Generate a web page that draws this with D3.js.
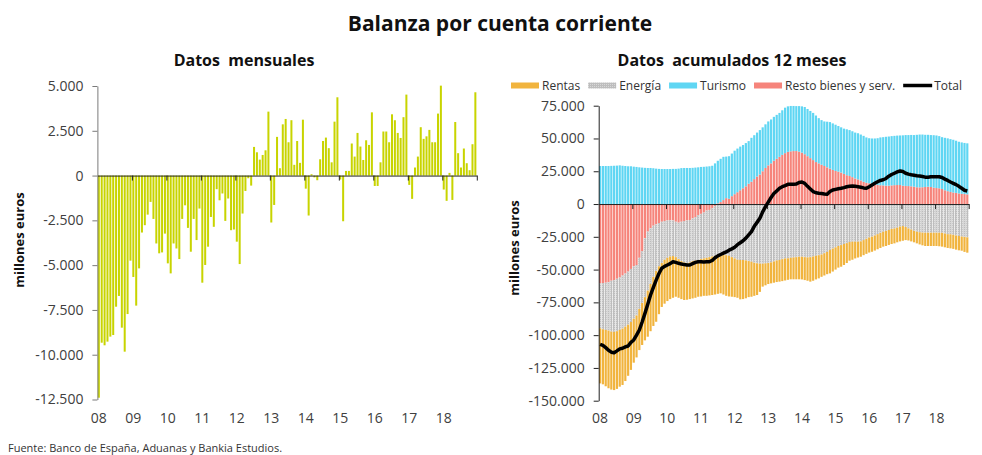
<!DOCTYPE html>
<html>
<head>
<meta charset="utf-8">
<script src="https://cdn.jsdelivr.net/npm/d3@7"></script>
<style>
  body { margin: 0; background: #fff; }
  svg { font-family: "Open Sans", sans-serif; }
</style>
</head>
<body>
<svg id="chart" width="982" height="455"></svg>
<script>
// años del eje (etiquetas) - 12 meses por año, ene-2008 a dic-2018
const years = ['08', '09', '10', '11', '12', '13', '14', '15', '16', '17', '18'];

// saldo mensual, millones de euros
const mensual = [
  -12400, -9330, -9475, -9270, -8990, -8900, -7320, -6720, -8490, -9830, -7730, -4750,
  -5660, -7260, -5180, -3180, -2770, -2180, -1470, -2420, -3790, -4340, -4290, -3240,
  -4900, -5460, -3790, -4070, -4660, -2420, -1660, -2920, -4250, -2420, -3600, -1840,
  -5980, -4990, -3970, -2310, -2860, -760, -1380, -1000, -2530, -1280, -3050, -3010,
  -3690, -4940, -2120, -860, -150, -560, 1600, 1300, 890, 1150, 1410, 3570,
  -2620, -1640, 2160, 410, 2860, 3160, 1860, 3090, 600, 1930, 710, 3120,
  -730, -2230, 75, -100, -260, 910, 1930, 2120, 1530, 740, 3010, 4370,
  -220, -2550, 260, 260, 1790, 1060, 2380, 1620, 870, 1970, 1710, 3530,
  -580, -580, 740, 2460, 2460, 1860, 3420, 3090, 2380, 2100, 3260, 4520,
  -520, -1300, 450, 1060, 2700, 2050, 2190, 2550, 1860, 1860, 3460, 5020,
  -780, -1410, 150, -1360, 2990, 1250, 450, 1510, 690, 300, 1750, 4650
];

// acumulado 12 meses, millones de euros
const rentas = [
  -42000, -42000, -43000, -44000, -44200, -44400, -44000, -43300, -43000, -41500, -39000, -36500,
  -33500, -32000, -31400, -32000, -33000, -35200, -36000, -37500, -38800, -36500, -33500, -33500,
  -33000, -32500, -31800, -30200, -29500, -29000, -28700, -28000, -28000, -28500, -28500, -28000,
  -28500, -28500, -29000, -29200, -29400, -29500, -29500, -29200, -30100, -31000, -31000, -30200,
  -29500, -29000, -30000, -29800, -28900, -27500, -26700, -25200, -24200, -21500, -17500, -16800,
  -16000, -16000, -16200, -16500, -16500, -16800, -16800, -16400, -16400, -16700, -16900, -17200,
  -17300, -17500, -17800, -18700, -18500, -18000, -17700, -17000, -17000, -17000, -17800, -17500,
  -17000, -16500, -16500, -16000, -15200, -14200, -13800, -12800, -12100, -11700, -11500, -11500,
  -11500, -11500, -11500, -11500, -11500, -11400, -11500, -11400, -11500, -11400, -11200, -11300,
  -11200, -10000, -9200, -9000, -8700, -8900, -9300, -9700, -10100, -10100, -10100, -10100,
  -10100, -10300, -10500, -10500, -10500, -10700, -10700, -10800, -10900, -10800, -11400, -11700
];
const energia = [
  -34300, -35200, -36000, -37000, -38800, -39500, -40000, -40000, -40500, -40500, -40500, -40500,
  -40000, -38500, -39000, -39500, -45000, -45000, -42500, -39000, -35500, -33000, -31500, -29500,
  -28500, -27800, -27200, -27000, -27800, -30000, -31500, -32500, -32300, -32500, -33000, -34200,
  -34500, -35000, -36000, -36000, -37000, -38000, -39000, -38900, -38900, -39000, -39500, -40500,
  -41500, -42500, -42700, -42700, -43000, -43500, -44000, -44800, -45200, -45500, -45500, -45200,
  -45000, -44500, -43800, -43000, -42700, -42000, -41500, -41400, -41000, -40700, -40500, -40200,
  -40200, -40500, -40700, -40500, -40000, -39500, -39000, -38500, -37500, -36500, -35100, -34000,
  -33000, -32000, -31300, -30500, -29800, -29000, -28700, -28700, -28700, -28500, -27500, -26500,
  -25500, -24900, -24000, -23000, -22000, -21100, -20500, -19800, -19000, -18600, -18000, -17200,
  -16800, -17500, -18600, -19500, -20500, -21100, -21500, -21800, -21900, -21900, -21900, -21900,
  -21900, -21900, -22000, -22500, -23000, -23100, -23500, -24000, -24400, -24800, -25100, -25400
];
const turismo = [
  29000, 29000, 29000, 29000, 29100, 29200, 29300, 29500, 29200, 29000, 28800, 28800,
  28500, 28300, 28000, 27800, 27600, 27500, 27500, 27300, 27000, 26800, 26700, 26700,
  26700, 26700, 26800, 26800, 27000, 27400, 27500, 27500, 27500, 27600, 27800, 28000,
  28300, 28400, 28600, 28800, 29200, 31000, 32500, 33000, 33000, 31700, 32500, 32500,
  33200, 33300, 33300, 33000, 33000, 32500, 33500, 33500, 33500, 33900, 33500, 33300,
  33500, 33500, 33500, 33500, 33500, 34000, 34700, 34700, 34600, 34400, 34300, 34700,
  35300, 36000, 36000, 36000, 36000, 35500, 34500, 34000, 34000, 34800, 35500, 35500,
  35300, 34800, 34500, 34500, 35000, 35000, 35000, 35000, 35200, 35000, 35000, 34600,
  34400, 34800, 35200, 35700, 36500, 36800, 37300, 37500, 37600, 37600, 37700, 37800,
  38400, 38800, 38900, 39200, 39400, 40000, 40300, 40200, 39800, 39600, 39600, 40000,
  40100, 39800, 39500, 40000, 40300, 40300, 40200, 39800, 39400, 39200, 39000, 38900
];
const resto = [
  -60500, -60300, -60000, -59500, -58500, -58000, -57000, -56000, -54500, -53000, -51500, -49500,
  -47500, -46500, -41000, -36000, -26000, -21000, -18500, -16500, -15500, -14500, -13500, -13000,
  -12500, -12200, -12500, -13500, -14200, -13500, -13000, -12500, -12200, -11000, -10000, -8500,
  -7500, -6500, -5000, -4500, -3000, -1500, 500, 1500, 3000, 4500, 4000, 6000,
  7500, 9000, 10500, 12000, 13500, 15500, 17000, 19000, 21000, 22500, 25000, 27500,
  29500, 31000, 33000, 34500, 36000, 37500, 38800, 39800, 40200, 40400, 40400, 40000,
  39200, 38000, 36500, 35000, 33500, 32000, 31000, 30000, 29000, 28000, 27000, 26000,
  25200, 24700, 24000, 23000, 22000, 21400, 20500, 19500, 18800, 18000, 17000, 16200,
  15800, 15200, 14800, 14500, 14300, 14200, 14000, 14000, 14200, 14400, 14500, 14500,
  14000, 13800, 13700, 13500, 13200, 12800, 12700, 12800, 13000, 13200, 13000, 12500,
  12200, 12000, 11500, 10500, 9800, 9200, 8800, 8500, 8100, 7800, 7600, 7400
];
const total = [
  -107000, -107800, -109500, -111500, -113000, -113400, -112000, -110500, -110000, -109000, -108300, -105500,
  -103700, -100000, -96100, -90000, -83400, -76500, -69400, -63500, -58000, -53000, -49000, -47500,
  -46500, -45500, -44000, -44500, -45200, -45800, -46200, -46500, -46500, -45500, -44500, -44000,
  -44000, -44200, -44000, -44000, -43000, -41000, -39500, -38500, -37500, -36500, -35200, -34200,
  -33000, -31000, -29500, -28000, -26000, -23500, -21000, -17000, -14000, -10900, -6000, -2000,
  1500, 5000, 8000, 10000, 12000, 13200, 14000, 15000, 15000, 15000, 15200, 16500,
  16800, 15800, 13500, 11500, 9500, 8600, 8200, 8000, 7600, 7400, 9500, 10700,
  11200, 11700, 12000, 12500, 13200, 13500, 13700, 13500, 13200, 12800, 12300, 12000,
  13200, 14500, 15800, 17000, 18000, 18500, 19500, 21200, 22500, 23500, 24500, 25200,
  24800, 23500, 22800, 22300, 22000, 21600, 21400, 21000, 20500, 20500, 20800, 20900,
  20900, 20800, 20200, 19000, 18000, 16800, 15800, 14800, 13500, 12000, 10500, 9900
];

const ticksMensual = [5000, 2500, 0, -2500, -5000, -7500, -10000, -12500];
const ticksAcum = [75000, 50000, 25000, 0, -25000, -50000, -75000, -100000, -125000, -150000];

const series = ['Rentas', 'Energía', 'Turismo', 'Resto bienes y serv.'];
const colores = {
  'Rentas': '#f1b43e',
  'Energía': 'url(#puntos)',
  'Turismo': '#5fd6f3',
  'Resto bienes y serv.': '#f6847b'
};

const svg = d3.select('#chart');
const fmt = d3.formatLocale({ decimal: ',', thousands: '.', grouping: [3], currency: ['', ''], minus: '-' }).format(',.0f');
const months = years.flatMap(yy => d3.range(1, 13).map(m => yy + '-' + m));

// trama punteada de la energía
const pat = svg.append('defs').append('pattern')
  .attr('id', 'puntos').attr('width', 2).attr('height', 2)
  .attr('patternUnits', 'userSpaceOnUse');
pat.append('rect').attr('width', 2).attr('height', 2).attr('fill', '#bdbdbd');
pat.append('rect').attr('width', 1).attr('height', 1).attr('fill', '#d8d8d8');

// titulos
svg.append('text')
  .attr('x', 500).attr('y', 31)
  .attr('text-anchor', 'middle')
  .attr('font-size', 21).attr('font-weight', 'bold').attr('fill', '#111')
  .text('Balanza por cuenta corriente');

svg.append('text')
  .attr('x', 244).attr('y', 66)
  .attr('text-anchor', 'middle').style('white-space', 'pre')
  .attr('font-size', 16).attr('font-weight', 'bold').attr('fill', '#111')
  .text('Datos  mensuales');

svg.append('text')
  .attr('x', 732).attr('y', 66)
  .attr('text-anchor', 'middle').style('white-space', 'pre')
  .attr('font-size', 16).attr('font-weight', 'bold').attr('fill', '#111')
  .text('Datos  acumulados 12 meses');

const styleAxis = (g, domainColor) => {
  g.select('.domain').attr('stroke', domainColor);
  g.selectAll('.tick line').attr('stroke', domainColor);
  g.selectAll('.tick text').attr('fill', '#404040').attr('font-size', 14)
    .attr('font-family', '"Open Sans", sans-serif');
};

// ---- panel izquierdo: datos mensuales ----
const xL = d3.scaleBand().domain(months).range([97.4, 476.8]).paddingInner(0.3).paddingOuter(0.15);
const yL = d3.scaleLinear().domain([-12500, 5000]).range([399.5, 86]);

svg.append('g')
  .attr('fill', '#c8d400')
  .selectAll('rect')
  .data(mensual)
  .join('rect')
  .attr('x', (d, i) => xL(months[i]))
  .attr('width', xL.bandwidth())
  .attr('y', d => yL(Math.max(0, d)))
  .attr('height', d => Math.abs(yL(d) - yL(0)));

svg.append('g')
  .attr('transform', 'translate(97.4,0)')
  .call(d3.axisLeft(yL).tickValues(ticksMensual).tickFormat(fmt).tickSize(5).tickPadding(9).tickSizeOuter(0))
  .call(g => styleAxis(g, '#7a7a7a'));

const yearL = d3.scaleLinear().domain([0, years.length]).range(xL.range());
svg.append('g')
  .attr('transform', `translate(0,${yL(0)})`)
  .call(d3.axisBottom(yearL).tickValues(d3.range(1, years.length + 1)).tickSize(5).tickFormat('').tickSizeOuter(0))
  .call(g => styleAxis(g, '#222'));

svg.append('g')
  .selectAll('text')
  .data(years)
  .join('text')
  .attr('x', d => xL(d + '-1') + xL.bandwidth() / 2)
  .attr('y', 423)
  .attr('text-anchor', 'middle')
  .attr('font-size', 14).attr('fill', '#404040')
  .text(d => d);

svg.append('text')
  .attr('transform', 'translate(24,240) rotate(-90)')
  .attr('text-anchor', 'middle')
  .attr('font-size', 13).attr('font-weight', 'bold').attr('fill', '#111')
  .text('millones euros');

// ---- panel derecho: acumulado 12 meses ----
const xR = d3.scaleBand().domain(months).range([598.7, 968.7]).paddingInner(0.22).paddingOuter(0.11);
const yR = d3.scaleLinear().domain([-150000, 75000]).range([400.7, 105.7]);

const tabla = months.map((m, i) => ({
  month: m,
  'Rentas': rentas[i],
  'Energía': energia[i],
  'Turismo': turismo[i],
  'Resto bienes y serv.': resto[i]
}));

const apilado = d3.stack()
  .keys(['Resto bienes y serv.', 'Turismo', 'Energía', 'Rentas'])
  .offset(d3.stackOffsetDiverging)(tabla);

svg.append('g')
  .selectAll('g')
  .data(apilado)
  .join('g')
  .attr('fill', s => colores[s.key])
  .selectAll('rect')
  .data(s => s)
  .join('rect')
  .attr('x', d => xR(d.data.month))
  .attr('width', xR.bandwidth())
  .attr('y', d => yR(Math.max(d[0], d[1])))
  .attr('height', d => Math.abs(yR(d[0]) - yR(d[1])));

svg.append('g')
  .attr('transform', 'translate(598.7,0)')
  .call(d3.axisLeft(yR).tickValues(ticksAcum).tickFormat(fmt).tickSize(5).tickPadding(9).tickSizeOuter(0))
  .call(g => styleAxis(g, '#222'));

const yearR = d3.scaleLinear().domain([0, years.length]).range(xR.range());
svg.append('g')
  .attr('transform', `translate(0,${yR(0)})`)
  .call(d3.axisBottom(yearR).tickValues(d3.range(1, years.length + 1)).tickSize(5).tickFormat('').tickSizeOuter(0))
  .call(g => styleAxis(g, '#222'));

svg.append('path')
  .datum(total)
  .attr('fill', 'none')
  .attr('stroke', '#000')
  .attr('stroke-width', 3.5)
  .attr('stroke-linejoin', 'round')
  .attr('d', d3.line().x((d, i) => xR(months[i]) + xR.bandwidth() / 2).y(d => yR(d)));

svg.append('g')
  .selectAll('text')
  .data(years)
  .join('text')
  .attr('x', d => xR(d + '-1') + xR.bandwidth() / 2)
  .attr('y', 423)
  .attr('text-anchor', 'middle')
  .attr('font-size', 14).attr('fill', '#404040')
  .text(d => d);

svg.append('text')
  .attr('transform', 'translate(519,248) rotate(-90)')
  .attr('text-anchor', 'middle')
  .attr('font-size', 13).attr('font-weight', 'bold').attr('fill', '#111')
  .text('millones euros');

// leyenda (ancho total ajustado al hueco 512-980)
const leyenda = svg.append('g').attr('font-size', 12).attr('fill', '#333');
let lx = 511;
series.concat(['Total']).forEach(name => {
  if (name === 'Total') {
    leyenda.append('line')
      .attr('x1', lx).attr('x2', lx + 29).attr('y1', 85.5).attr('y2', 85.5)
      .attr('stroke', '#000').attr('stroke-width', 3.5);
  } else {
    leyenda.append('rect')
      .attr('x', lx).attr('y', 82.5).attr('width', 28).attr('height', 6)
      .attr('fill', colores[name]);
  }
  const t = leyenda.append('text')
    .attr('x', lx + 31).attr('y', 90)
    .text(name);
  lx += 31 + t.node().getComputedTextLength() + 8;
});

// fuente
svg.append('text')
  .attr('x', 8).attr('y', 452)
  .attr('font-size', 11).attr('fill', '#333')
  .text('Fuente: Banco de España, Aduanas y Bankia Estudios.');
</script>
</body>
</html>
